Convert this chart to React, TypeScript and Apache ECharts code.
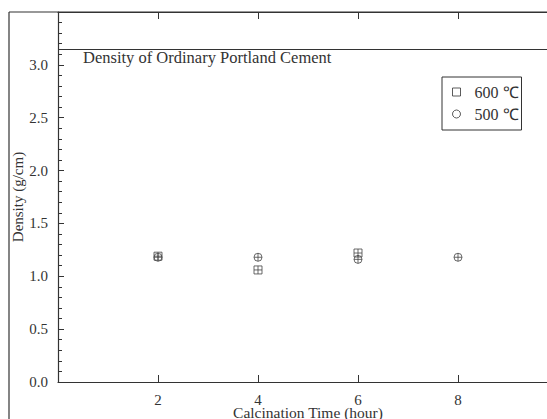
import React, { useEffect, useRef } from "react";
import * as echarts from "echarts";

const xTicks = [2, 4, 6, 8];
const series600 = [
  [2, 1.19],
  [4, 1.06],
  [6, 1.22],
];
const series500 = [
  [2, 1.18],
  [4, 1.18],
  [6, 1.16],
  [8, 1.18],
];
const opcDensity = 3.15;
const opcLabel = "Density of Ordinary Portland Cement";
const xName = "Calcination Time (hour)";
const yName = "Density (g/cm)";
const legend600 = "600 ℃";
const legend500 = "500 ℃";

const FONT = "Liberation Serif";
const INK = "#333";

const squarePlus = "path://M0,0H10V10H0Z M0,5H10 M5,0V10";
const circlePlus = "path://M0,5A5,5,0,1,1,10,5A5,5,0,1,1,0,5Z M0,5H10 M5,0V10";

export default function App() {
  const ref = useRef<HTMLDivElement>(null);
  useEffect(() => {
    if (!ref.current) return;
    const chart = echarts.init(ref.current, undefined, { renderer: "svg" });
    chart.setOption({
      animation: false,
      backgroundColor: "#fff",
      textStyle: { fontFamily: FONT, color: INK },
      grid: { left: 58, right: -11, top: 12, bottom: 37, containLabel: false, outerBoundsMode: "none" },
      legend: {
        left: 442,
        top: 77,
        orient: "vertical",
        padding: [7, 3, 8, 10],
        itemGap: 6,
        itemWidth: 8,
        itemHeight: 8,
        borderColor: INK,
        borderWidth: 1,
        textStyle: { fontFamily: FONT, fontSize: 16, color: INK, padding: [0, 0, 0, 9] },
        data: [
          { name: legend600, icon: "rect", itemStyle: { color: "transparent", borderColor: INK, borderWidth: 1 } },
          { name: legend500, icon: "circle", itemStyle: { color: "transparent", borderColor: INK, borderWidth: 1 } },
        ],
      },
      xAxis: [
        {
          type: "value",
          min: 0,
          max: 10,
          interval: 2,
          position: "bottom",
          name: xName,
          nameLocation: "middle",
          nameGap: 22,
          nameMoveOverlap: false,
          nameTextStyle: { fontFamily: FONT, fontSize: 15.5, color: INK },
          splitLine: { show: false },
          axisLine: { lineStyle: { color: INK, width: 1.2 } },
          axisTick: { inside: true, length: 7, customValues: xTicks, lineStyle: { color: INK } },
          axisLabel: { customValues: xTicks, fontFamily: FONT, fontSize: 15, color: INK, margin: 10 },
        },
        {
          type: "value",
          min: 0,
          max: 10,
          interval: 2,
          position: "top",
          splitLine: { show: false },
          axisLine: { lineStyle: { color: INK, width: 1.2 } },
          axisTick: { inside: true, length: 7, customValues: xTicks, lineStyle: { color: INK } },
          axisLabel: { show: false },
        },
      ],
      yAxis: {
        type: "value",
        min: 0,
        max: 3.5,
        interval: 0.5,
        name: yName,
        nameLocation: "middle",
        nameGap: 33,
        nameMoveOverlap: false,
        nameTextStyle: { fontFamily: FONT, fontSize: 15, color: INK },
        splitLine: { show: false },
        axisLine: { show: true, lineStyle: { color: INK, width: 1.2 } },
        axisTick: { show: true, inside: true, length: 6, lineStyle: { color: INK } },
        minorTick: { show: true, splitNumber: 5, length: 4, lineStyle: { color: INK } },
        axisLabel: {
          showMaxLabel: false,
          fontFamily: FONT,
          fontSize: 15,
          color: INK,
          margin: 10,
          formatter: (v: number) => v.toFixed(1),
        },
      },
      graphic: [
        { type: "line", shape: { x1: 9, y1: 12, x2: 547, y2: 12 }, style: { stroke: INK, lineWidth: 1.2 } },
        { type: "line", shape: { x1: 9, y1: 12, x2: 9, y2: 419 }, style: { stroke: INK, lineWidth: 1.2 } },
      ],
      series: [
        {
          name: legend600,
          type: "scatter",
          symbol: squarePlus,
          symbolSize: 8,
          itemStyle: { color: "transparent", borderColor: "#444", borderWidth: 1 },
          data: series600,
          z: 3,
        },
        {
          name: legend500,
          type: "scatter",
          symbol: circlePlus,
          symbolSize: 8,
          itemStyle: { color: "transparent", borderColor: "#444", borderWidth: 1 },
          data: series500,
          z: 3,
          markLine: {
            silent: true,
            symbol: ["none", "none"],
            lineStyle: { color: INK, type: "solid", width: 1 },
            label: {
              show: true,
              position: "insideStartBottom",
              formatter: opcLabel,
              fontFamily: FONT,
              fontSize: 16.5,
              color: INK,
              distance: [25, 0],
            },
            emphasis: { disabled: true },
            data: [{ yAxis: opcDensity }],
          },
        },
      ],
    });
    return () => chart.dispose();
  }, []);
  return <div ref={ref} style={{ position: "fixed", left: 0, top: 0, width: 547, height: 419 }} />;
}
